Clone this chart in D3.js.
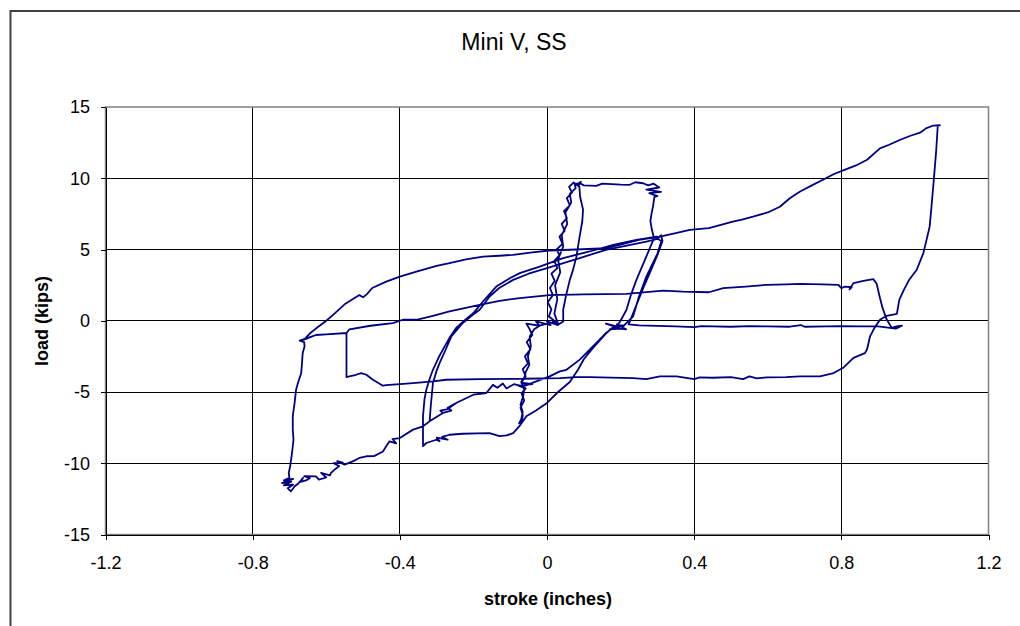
<!DOCTYPE html>
<html>
<head>
<meta charset="utf-8">
<title>Mini V, SS</title>
<style>
body { margin: 0; background: #fff; }
svg { display: block; font-family: "Liberation Sans", Arial, sans-serif; }
.grid line { stroke: #000; stroke-width: 1; shape-rendering: crispEdges; }
.axis text { font-size: 18px; fill: #000; font-family: "Liberation Sans", Arial, sans-serif; }
.axis line, .axis path { stroke: #000; shape-rendering: crispEdges; }
.axis-title { font-size: 18px; font-weight: bold; }
</style>
</head>
<body>
<svg width="1020" height="626"></svg>
<script src="https://d3js.org/d3.v7.min.js"></script>
<script>

// ticks
var xTicks = [-1.2, -0.8, -0.4, 0, 0.4, 0.8, 1.2];
var xTickLabels = ["-1.2", "-0.8", "-0.4", "0", "0.4", "0.8", "1.2"];
var yTicks = [-15, -10, -5, 0, 5, 10, 15];
var yTickLabels = ["-15", "-10", "-5", "0", "5", "10", "15"];

// load-stroke trace, [stroke (in), load (kips)]
var bandDown = [[0.00,-0.20],[-0.02,-0.35],[-0.035,-0.6],[-0.047,-1.1],[-0.044,-1.8],[-0.052,-2.5],[-0.048,-3.1],
  [-0.058,-3.6],[-0.06,-3.9],[-0.07,-4.3],[-0.062,-4.8],[-0.065,-5.3],[-0.072,-5.9],[-0.066,-6.4],[-0.07,-6.9],
  [-0.076,-7.2],[-0.068,-7.05]];
var bandUp = [[-0.066,-6.6],[-0.072,-6.1],[-0.062,-5.6],[-0.069,-5.1],[-0.058,-4.75],[-0.078,-4.55],[-0.04,-4.45],
  [-0.07,-4.35],[-0.058,-3.9],[-0.066,-3.4],[-0.052,-3.0],[-0.06,-2.5],[-0.045,-2.0],[-0.055,-1.5],[-0.04,-1.0],
  [-0.048,-0.55],[-0.056,-0.2],[-0.02,-0.35],[-0.03,-0.05],[0.01,-0.3],[0.0,-0.05],[0.03,-0.3],[0.02,0.0],
  [0.005,0.3],[0.012,0.8],[0.002,1.3],[0.016,1.8],[0.008,2.3],[0.021,2.8],[0.012,3.3],[0.028,3.7],[0.02,4.2],
  [0.034,4.6],[0.026,5.0],[0.042,5.4],[0.034,5.9],[0.048,6.3],[0.04,6.8],[0.054,7.2],[0.046,7.7],[0.062,8.1],
  [0.054,8.6],[0.068,9.0],[0.06,9.4],[0.072,9.7],[0.085,9.45],[0.092,9.75],[0.08,9.55]];
var bandInner = [[0.088,9.4],[0.09,8.7],[0.098,7.8],[0.096,7.0],[0.088,5.8],[0.08,4.5],[0.07,3.5],[0.062,2.87],
  [0.052,1.8],[0.044,0.77],[0.044,-0.05],[0.03,-0.28],[0.015,-0.08],[0.03,-0.2],[0.02,0.5],[0.028,1.5],
  [0.022,2.5],[0.036,3.4],[0.03,4.3],[0.044,5.2],[0.04,6.0],[0.055,6.8],[0.05,7.6],[0.066,8.3],[0.062,8.9],
  [0.078,9.3],[0.075,9.6]];
var boxTop = [[0.09,9.65],[0.1,9.5],[0.134,9.47],[0.15,9.62],[0.2,9.55],[0.225,9.54],[0.24,9.72],[0.261,9.65],
  [0.275,9.5],[0.29,9.62],[0.305,9.35],[0.27,9.2],[0.31,9.05],[0.278,8.95],[0.3,8.75],[0.292,8.7],[0.288,8.0],
  [0.284,7.5],[0.281,7.0],[0.285,6.4],[0.29,5.9]];
var unloadA = [[0.289,5.68],[0.265,4.2],[0.243,2.87],[0.228,1.8],[0.216,0.77],[0.2,0.0],[0.189,-0.4],
  [0.16,-0.2],[0.2,-0.55],[0.17,-0.6],[0.21,-0.3],[0.18,-0.45]];
var cycle1Lower = [[0.16,-0.9],[0.125,-1.9],[0.1,-2.7],[0.085,-3.4],[0.062,-4.3],[0.03,-5.0],[0.0,-5.77],
  [-0.03,-6.3],[-0.056,-6.7],[-0.075,-7.4],[-0.092,-7.88],[-0.11,-8.05],[-0.129,-8.1],[-0.156,-7.88],
  [-0.19,-7.9],[-0.229,-7.93],[-0.265,-8.0],[-0.285,-8.15],[-0.27,-8.35],[-0.3,-8.2],[-0.292,-8.45],
  [-0.301,-8.35],[-0.328,-8.58],[-0.337,-8.8]];
var cycle1Upper = [[-0.337,-6.7],[-0.333,-5.5],[-0.328,-4.84],[-0.318,-4.0],[-0.31,-3.44],[-0.295,-2.6],
  [-0.283,-2.03],[-0.265,-1.2],[-0.247,-0.51],[-0.225,0.0],[-0.2,0.54],[-0.174,1.35],[-0.138,2.4],[-0.1,3.0],
  [-0.074,3.34],[-0.02,3.8],[0.044,4.4],[0.116,4.86],[0.18,5.33],[0.243,5.68],[0.298,5.9]];
var unloadB = [[0.3,5.75],[0.311,5.6],[0.3,4.7],[0.27,3.1],[0.25,1.7],[0.234,0.3],[0.207,-0.4],[0.19,-0.25],
  [0.215,-0.6],[0.18,-0.5]];
var cycle2Lower = [[0.16,-0.86],[0.143,-1.33],[0.116,-2.03],[0.089,-2.73],[0.053,-3.44],[0.035,-3.55],
  [0.007,-3.9],[-0.029,-4.26],[-0.065,-4.6],[-0.09,-4.45],[-0.11,-4.75],[-0.12,-4.4],[-0.135,-4.7],
  [-0.147,-4.5],[-0.165,-5.07],[-0.2,-5.19],[-0.247,-5.77],[-0.27,-6.1],[-0.26,-6.3],[-0.283,-6.47],[-0.319,-7.06]];
var cycle2Upper = [[-0.316,-6.0],[-0.31,-4.37],[-0.3,-3.5],[-0.292,-2.97],[-0.275,-2.0],[-0.26,-1.1],
  [-0.229,-0.16],[-0.205,0.35],[-0.183,0.77],[-0.156,1.7],[-0.13,2.3],[-0.092,2.87],[-0.05,3.3],[0,3.69],
  [0.089,4.4],[0.16,4.98],[0.27,5.56],[0.3,5.75]];
var unloadC = [[0.31,6.0],[0.314,5.6],[0.3,4.6],[0.28,3.4],[0.26,2.2],[0.24,0.9],[0.222,-0.25]];
var zeroRun = [[0.25,-0.32],[0.3,-0.36],[0.35,-0.4],[0.4,-0.45],[0.42,-0.38],[0.45,-0.4],[0.5,-0.42],
  [0.55,-0.38],[0.6,-0.4],[0.66,-0.42],[0.69,-0.3],[0.70,-0.42],[0.76,-0.4],[0.80,-0.38],[0.85,-0.4],
  [0.9,-0.4],[0.932,-0.5],[0.948,-0.55],[0.965,-0.35]];
var middleLoop = [[0.95,-0.4],[0.937,-0.5],[0.923,0.1],[0.912,0.9],[0.905,1.6],[0.896,2.6],[0.887,2.92],
  [0.86,2.8],[0.833,2.64],[0.822,2.2],[0.828,2.35],[0.81,2.4],[0.8,2.29],[0.792,2.52],[0.75,2.55],[0.688,2.59],
  [0.65,2.55],[0.597,2.52],[0.54,2.4],[0.479,2.29],[0.44,2.0],[0.37,2.05],[0.316,2.12],[0.216,1.89],[0.1,1.85],
  [0.007,1.8],[-0.074,1.59],[-0.129,1.4],[-0.183,1.12],[-0.265,0.65],[-0.31,0.35],[-0.355,0.07],[-0.392,0.07],
  [-0.419,-0.16],[-0.48,-0.35],[-0.537,-0.6],[-0.545,-0.86],[-0.6,-0.95],[-0.628,-1.0],[-0.655,-1.28],
  [-0.672,-1.4],[-0.66,-1.33]];
var bigLoad = [[-0.645,-0.9],[-0.628,-0.55],[-0.6,0.0],[-0.58,0.45],[-0.55,1.15],[-0.51,1.8],[-0.5,1.65],
  [-0.49,1.85],[-0.475,2.3],[-0.437,2.75],[-0.4,3.1],[-0.355,3.45],[-0.3,3.85],[-0.265,4.05],[-0.22,4.3],
  [-0.174,4.5],[-0.129,4.56],[-0.092,4.63],[-0.04,4.8],[0.007,4.93],[0.08,5.0],[0.16,5.1],[0.2,5.35],
  [0.25,5.68],[0.307,5.9],[0.35,6.15],[0.388,6.38],[0.44,6.5],[0.505,6.96],[0.53,7.1],[0.56,7.3],[0.6,7.6],
  [0.633,8.0],[0.66,8.6],[0.688,9.07],[0.72,9.5],[0.75,9.9],[0.78,10.3],[0.80,10.5],[0.84,10.9],[0.87,11.3],
  [0.905,12.1],[0.93,12.35],[0.96,12.7],[0.99,13.0],[1.014,13.2],[1.03,13.5],[1.05,13.7],[1.068,13.72]];
var bigUnload = [[1.062,13.65],[1.058,12.0],[1.052,10.1],[1.045,8.0],[1.04,6.6],[1.03,5.5],[1.023,4.75],
  [1.005,3.58],[0.985,2.9],[0.97,2.17],[0.958,1.5],[0.956,1.24],[0.951,0.49],[0.923,0.35],[0.905,0.07],
  [0.89,-0.5],[0.878,-1.1],[0.87,-2.0],[0.864,-2.27],[0.833,-2.6],[0.805,-3.3],[0.779,-3.67],[0.742,-3.9],
  [0.687,-3.9],[0.65,-3.95],[0.597,-3.97],[0.57,-4.05],[0.55,-3.9],[0.533,-4.1],[0.5,-3.95],[0.45,-4.0],
  [0.415,-3.97],[0.40,-4.09],[0.352,-3.9],[0.307,-3.9],[0.27,-4.09],[0.234,-4.02],[0.116,-3.95],[0.08,-3.95],
  [0.035,-4.02],[-0.065,-4.07],[-0.183,-4.09],[-0.274,-4.14],[-0.31,-4.26],[-0.364,-4.37],[-0.437,-4.52],
  [-0.446,-4.56],[-0.473,-4.14],[-0.491,-3.79],[-0.505,-3.67],[-0.519,-3.79],[-0.537,-3.9],[-0.545,-3.95],
  [-0.545,-0.86],[-0.6,-0.95],[-0.628,-1.0],[-0.672,-1.4],[-0.66,-1.5]];
var bigNegative = [[-0.659,-1.8],[-0.664,-2.27],[-0.668,-3.67],[-0.677,-4.37],[-0.682,-4.84],[-0.686,-5.77],
  [-0.691,-6.7],[-0.691,-7.64],[-0.689,-8.35],[-0.693,-9.28],[-0.698,-10.2],[-0.702,-10.7],[-0.70,-11.03],
  [-0.715,-11.2],[-0.69,-11.1],[-0.72,-11.4],[-0.695,-11.3],[-0.715,-11.55],[-0.69,-11.5],[-0.705,-11.75],
  [-0.696,-11.97],[-0.685,-11.6],[-0.675,-11.4]];
var bigReload = [[-0.663,-11.03],[-0.67,-11.3],[-0.655,-11.2],[-0.645,-11.05],[-0.66,-10.9],[-0.628,-10.92],
  [-0.62,-11.15],[-0.6,-11.0],[-0.614,-10.68],[-0.59,-10.85],[-0.587,-10.68],[-0.575,-10.4],[-0.565,-10.2],
  [-0.58,-10.0],[-0.555,-9.95],[-0.57,-9.85],[-0.55,-10.1],[-0.528,-9.87],[-0.51,-9.63],[-0.491,-9.51],
  [-0.47,-9.5],[-0.446,-9.17],[-0.437,-8.81],[-0.428,-8.46],[-0.41,-8.6],[-0.42,-8.3],[-0.4,-8.23],
  [-0.364,-7.64],[-0.337,-7.41],[-0.319,-7.06],[-0.283,-6.47],[-0.29,-6.3],[-0.27,-6.2],[-0.247,-5.77],[-0.2,-5.19]];

var trace = [].concat(bandDown, bandUp, bandInner, boxTop, unloadA, cycle1Lower, cycle1Upper,
  unloadB, cycle2Lower, cycle2Upper, unloadC, zeroRun, middleLoop, bigLoad, bigUnload, bigNegative, bigReload);

var svg = d3.select("svg");
var plotLeft = 105.5, plotRight = 988.5, plotTop = 107, plotBottom = 534.5;

var x = d3.scaleLinear().domain([-1.2, 1.2]).range([plotLeft, plotRight]);
var y = d3.scaleLinear().domain([-15, 15]).range([plotBottom, plotTop]);

// chart frame
svg.append("rect")
    .attr("x", 10.5).attr("y", 11)
    .attr("width", 1030).attr("height", 640)
    .attr("fill", "none").attr("stroke", "#404040").attr("stroke-width", 2);

svg.append("text")
    .attr("x", 514).attr("y", 50)
    .attr("text-anchor", "middle")
    .style("font-size", "23px")
    .text("Mini V, SS");

// grid
var grid = svg.append("g").attr("class", "grid");
grid.selectAll(".v").data(xTicks.slice(1, -1)).enter().append("line")
    .attr("x1", function(d) { return x(d); }).attr("x2", function(d) { return x(d); })
    .attr("y1", plotTop).attr("y2", plotBottom);
grid.selectAll(".h").data(yTicks.slice(1, -1)).enter().append("line")
    .attr("x1", plotLeft).attr("x2", plotRight)
    .attr("y1", function(d) { return y(d); }).attr("y2", function(d) { return y(d); });

svg.append("rect")
    .attr("x", plotLeft).attr("y", plotTop)
    .attr("width", plotRight - plotLeft).attr("height", plotBottom - plotTop)
    .attr("fill", "none").attr("stroke", "#808080").attr("stroke-width", 1.5);

// axes
svg.append("g").attr("class", "axis")
    .attr("transform", "translate(0," + plotBottom + ")")
    .call(d3.axisBottom(x).tickValues(xTicks).tickSize(5).tickSizeOuter(0).tickPadding(17)
      .tickFormat(function(d, i) { return xTickLabels[i]; }));

svg.append("g").attr("class", "axis")
    .attr("transform", "translate(" + plotLeft + ",0)")
    .call(d3.axisLeft(y).tickValues(yTicks).tickSize(5).tickSizeOuter(0).tickPadding(10.5)
      .tickFormat(function(d, i) { return yTickLabels[i]; }));

svg.append("text").attr("class", "axis-title")
    .attr("x", 548).attr("y", 605)
    .attr("text-anchor", "middle")
    .text("stroke (inches)");

svg.append("text").attr("class", "axis-title")
    .attr("transform", "translate(48,321) rotate(-90)")
    .attr("text-anchor", "middle")
    .text("load (kips)");

// data
var line = d3.line()
    .x(function(d) { return x(d[0]); })
    .y(function(d) { return y(d[1]); });

svg.append("path")
    .datum(trace)
    .attr("d", line)
    .attr("fill", "none")
    .attr("stroke", "#000080")
    .attr("stroke-width", 1.8)
    .attr("stroke-linejoin", "round");

</script>
</body>
</html>
